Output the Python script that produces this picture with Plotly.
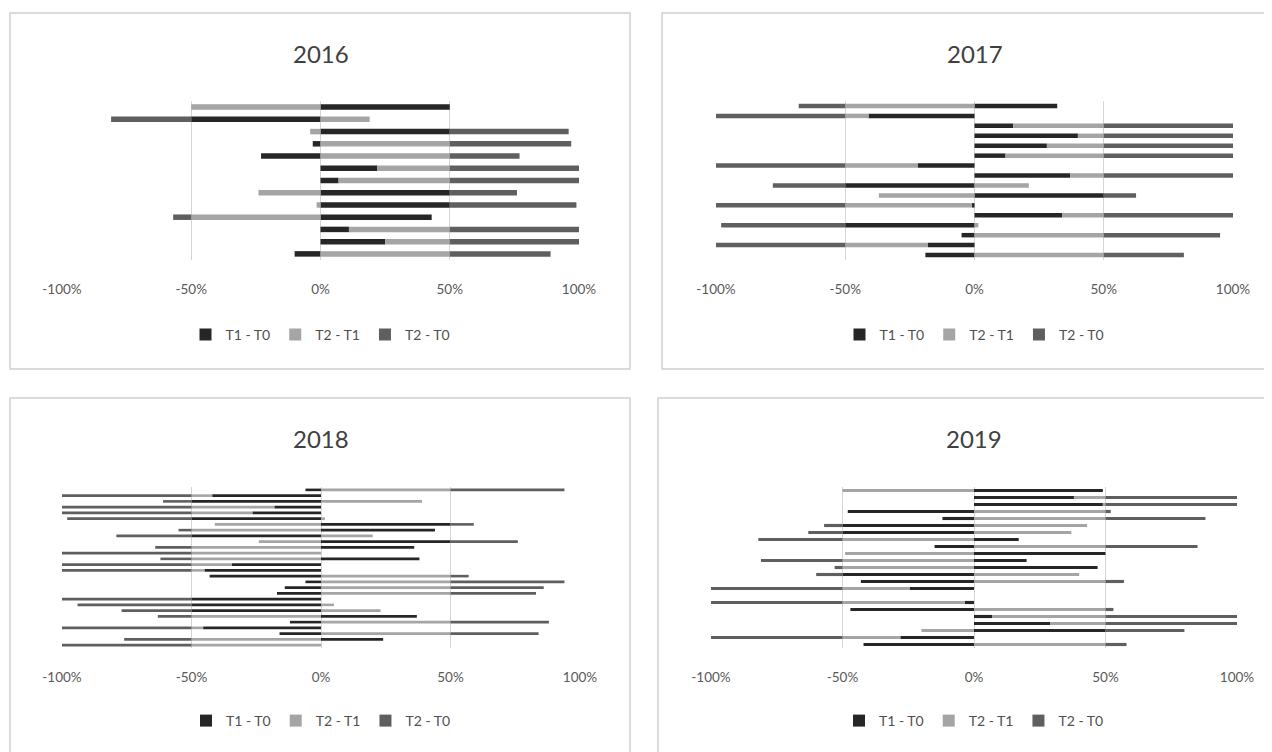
import plotly.graph_objects as go

# ---------------- data (top row of each panel first) ----------------
series_names = ["T1 - T0", "T2 - T1", "T2 - T0"]
years = ["2016", "2017", "2018", "2019"]
tick_vals = [-1.0, -0.5, 0.0, 0.5, 1.0]
tick_text = ["-100%", "-50%", "0%", "50%", "100%"]

t1t0_2016 = [0.50, -0.50, 0.50, -0.03, -0.23, 0.22, 0.07, 0.50, 0.50, 0.43, 0.11, 0.25, -0.10]
t2t1_2016 = [-0.50, 0.19, -0.04, 0.50, 0.50, 0.28, 0.43, -0.24, -0.015, -0.50, 0.39, 0.25, 0.50]
t2t0_2016 = [0.00, -0.31, 0.46, 0.47, 0.27, 0.50, 0.50, 0.26, 0.49, -0.07, 0.50, 0.50, 0.39]

t1t0_2017 = [0.32, -0.41, 0.15, 0.40, 0.28, 0.12, -0.22, 0.37, -0.50, 0.50, -0.01, 0.34, -0.50, -0.05, -0.18, -0.19]
t2t1_2017 = [-0.50, -0.09, 0.35, 0.10, 0.22, 0.38, -0.28, 0.13, 0.21, -0.37, -0.49, 0.16, 0.015, 0.50, -0.32, 0.50]
t2t0_2017 = [-0.18, -0.50, 0.50, 0.50, 0.50, 0.50, -0.50, 0.50, -0.28, 0.125, -0.50, 0.50, -0.48, 0.45, -0.50, 0.31]

t1t0_2018 = [-0.06, -0.42, -0.50, -0.18, -0.265, -0.50, 0.50, 0.44, -0.50, 0.50, 0.36, 0.00, 0.38, -0.345,
             -0.45, -0.43, -0.06, -0.14, -0.17, -0.50, -0.50, -0.50, 0.37, -0.12, -0.455, -0.16, 0.24, 0.00]
t2t1_2018 = [0.50, -0.08, 0.39, -0.32, -0.235, 0.015, -0.41, -0.50, 0.20, -0.24, -0.50, -0.50, -0.50, -0.155,
             -0.05, 0.50, 0.50, 0.50, 0.50, 0.00, 0.05, 0.23, -0.50, 0.50, -0.045, 0.50, -0.50, -0.50]
t2t0_2018 = [0.44, -0.50, -0.11, -0.50, -0.50, -0.48, 0.09, -0.05, -0.29, 0.26, -0.14, -0.50, -0.12, -0.50,
             -0.50, 0.07, 0.44, 0.36, 0.33, -0.50, -0.44, -0.27, -0.13, 0.38, -0.50, 0.34, -0.26, -0.50]

t1t0_2019 = [0.49, 0.38, 0.49, -0.48, -0.12, -0.50, -0.50, 0.17, -0.15, 0.50, 0.20, 0.47, -0.50, -0.43,
             -0.245, 0.00, -0.035, -0.47, 0.07, 0.29, 0.50, -0.28, -0.42]
t2t1_2019 = [-0.50, 0.12, 0.01, 0.50, 0.50, 0.43, 0.37, -0.50, 0.50, -0.49, -0.50, -0.50, 0.40, 0.50,
             -0.255, 0.00, -0.465, 0.50, 0.43, 0.21, -0.20, -0.22, 0.50]
t2t0_2019 = [0.00, 0.50, 0.50, 0.02, 0.38, -0.07, -0.13, -0.32, 0.35, 0.00, -0.31, -0.03, -0.10, 0.07,
             -0.50, 0.00, -0.50, 0.03, 0.50, 0.50, 0.30, -0.50, 0.08]

panel_data = {
    "2016": [t1t0_2016, t2t1_2016, t2t0_2016],
    "2017": [t1t0_2017, t2t1_2017, t2t0_2017],
    "2018": [t1t0_2018, t2t1_2018, t2t0_2018],
    "2019": [t1t0_2019, t2t1_2019, t2t0_2019],
}

# ---------------- styling ----------------
W, H = 1272, 752
OFF = 8  # page body margin in the browser
colors = ["#262626", "#a5a5a5", "#5f5f5f"]
FONT = "Lato"
TXT = "#595959"

def px_x(v):
    return (v - OFF) / W

def px_y(v):
    return 1 - (v - OFF) / H

# plot areas in screen pixels: (left, right, top, bottom)
areas = {
    "2016": (62, 579, 101, 260),
    "2017": (716, 1233, 101, 260),
    "2018": (62, 580, 487, 648),
    "2019": (711, 1237, 487, 648),
}
# panel boxes in screen pixels
boxes = [(10, 630, 13, 369), (662, 1300, 13, 369), (10, 630, 398, 800), (658, 1300, 398, 800)]
title_y = {"2016": 53, "2017": 53, "2018": 438, "2019": 438}
legend_y = {"2016": 335, "2017": 335, "2018": 721, "2019": 721}

fig = go.Figure()
layout = dict(
    width=W, height=H, margin=dict(l=0, r=0, t=0, b=0, autoexpand=False),
    paper_bgcolor="white", plot_bgcolor="white",
    barmode="relative", bargap=0.55,
    font=dict(family=FONT, color=TXT, size=13),
    showlegend=True,
)

annotations = []
shapes = []
for i, yr in enumerate(years):
    ax = "" if i == 0 else str(i + 1)
    xa, ya = "x" + ax, "y" + ax
    leg = "legend" if i == 0 else "legend" + str(i + 1)
    vals = panel_data[yr]
    cats = [str(k) for k in range(len(vals[0]))]
    for s, name in enumerate(series_names):
        fig.add_trace(go.Bar(
            y=cats, x=vals[s], orientation="h", name=name,
            marker=dict(color=colors[s], line=dict(width=0)),
            xaxis=xa, yaxis=ya, legend=leg, hoverinfo="x+name",
        ))
    l, r, t, b = areas[yr]
    layout["xaxis" + ax] = dict(
        domain=[px_x(l), px_x(r)], anchor=ya, range=[-1, 1],
        tickvals=tick_vals, ticktext=tick_text, showgrid=True,
        gridcolor="#d4d4d4", gridwidth=1, zeroline=False, showline=False,
        ticks="", ticklabelstandoff=19, tickfont=dict(size=13.5, color=TXT, family=FONT),
        fixedrange=True, automargin=False,
    )
    layout["yaxis" + ax] = dict(
        domain=[px_y(b), px_y(t)], anchor=xa, autorange="reversed",
        showticklabels=False, showgrid=False, zeroline=False, showline=False,
        ticks="", type="category", fixedrange=True, automargin=False,
    )
    layout[leg] = dict(
        orientation="h", x=px_x((l + r) / 2), xanchor="center",
        y=px_y(legend_y[yr]), yanchor="middle",
        font=dict(size=14, color="#505050", family=FONT),
        bgcolor="rgba(0,0,0,0)", itemwidth=30, traceorder="normal",
        itemclick=False, itemdoubleclick=False,
    )
    annotations.append(dict(
        text=yr, x=px_x((l + r) / 2), y=px_y(title_y[yr]), xref="paper", yref="paper",
        showarrow=False, xanchor="center", yanchor="middle",
        font=dict(size=24, color="#404040", family=FONT),
    ))

for (l, r, t, b) in boxes:
    shapes.append(dict(type="rect", xref="paper", yref="paper",
                       x0=px_x(l), x1=px_x(r), y0=px_y(b), y1=px_y(t),
                       line=dict(color="#d0d0d0", width=1.5), layer="below"))

layout["annotations"] = annotations
layout["shapes"] = shapes
fig.update_layout(**layout)
fig.write_html("out.html", config={"displayModeBar": False})
